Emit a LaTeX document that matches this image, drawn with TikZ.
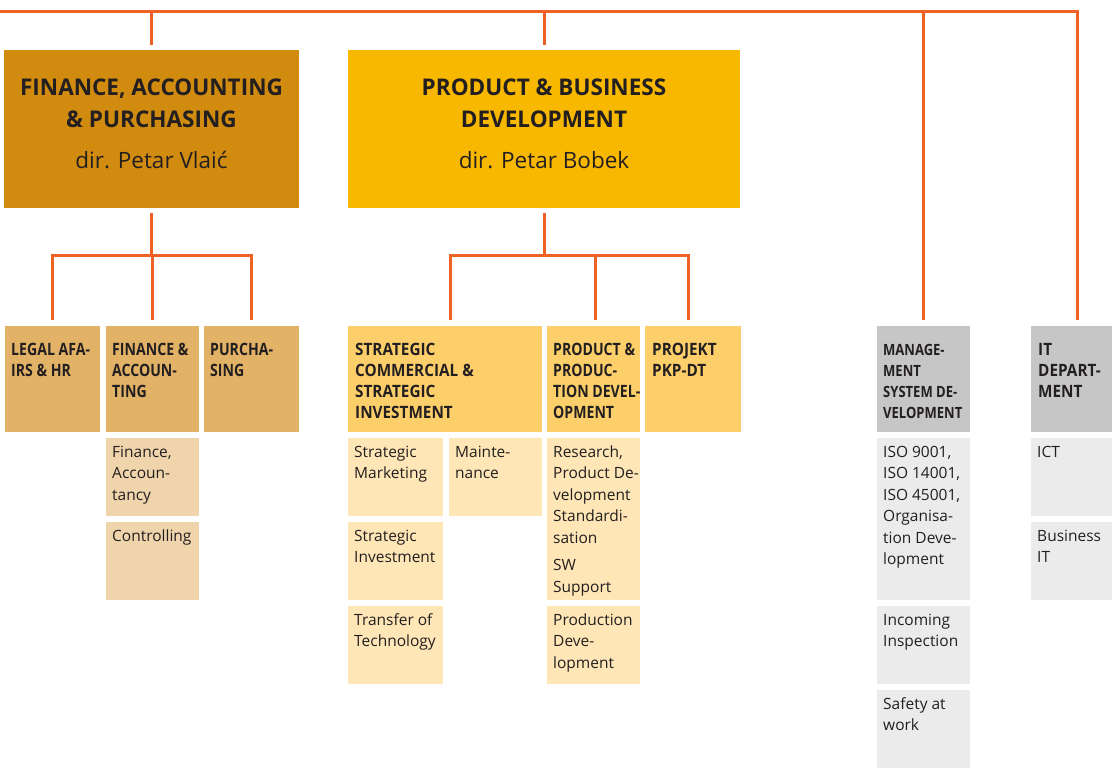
\documentclass[tikz,border=0pt]{standalone}
\usepackage{fontspec}
\setmainfont{Open Sans}
\newfontfamily\hdfont{Open Sans}[FakeStretch=0.9]
\newfontfamily\hdnfont{Open Sans}[FakeStretch=0.83]
\newfontfamily\msdfont{Open Sans}[FakeStretch=0.84]
\newfontfamily\bigfontfam{Open Sans}[FakeStretch=0.98]
\definecolor{conn}{HTML}{EE6325}
\definecolor{txt}{HTML}{231F20}
\definecolor{finbig}{HTML}{D18B0F}
\definecolor{pbdbig}{HTML}{F9B800}
\definecolor{finhd}{HTML}{E2B266}
\definecolor{finsub}{HTML}{F0D5AC}
\definecolor{pbdhd}{HTML}{FDCF6A}
\definecolor{pbdsub}{HTML}{FFE6B6}
\definecolor{grayhd}{HTML}{C6C6C6}
\definecolor{graysub}{HTML}{EBEBEB}
\newcommand\hdtext{\hdfont\bfseries\fontsize{17}{21}\selectfont\raggedright}
\newcommand\hdntext{\hdnfont\bfseries\fontsize{17}{21}\selectfont\raggedright}
\newcommand\sbtext{\fontsize{15.5}{21.5}\selectfont\raggedright}
\newcommand\bx[6]{\node[box,fill=#6,minimum width=#4,minimum height=#5,anchor=north west] (#1) at (#2,#3) {};}
\newcommand\hd[2]{\node[anchor=base west,inner sep=0,text=txt] (#1-t) at ([shift={(7pt,-29pt)}]#1.north west) {\parbox[t]{200pt}{\hdtext #2}};}
\newcommand\hdn[2]{\node[anchor=base west,inner sep=0,text=txt] (#1-t) at ([shift={(6pt,-29pt)}]#1.north west) {\parbox[t]{200pt}{\hdntext #2}};}
\newcommand\st[2]{\node[anchor=base west,inner sep=0,text=txt] (#1-t) at ([shift={(6pt,-19pt)}]#1.north west) {\parbox[t]{200pt}{\sbtext #2}};}
\tikzset{
  box/.style={draw=none,inner sep=0,outer sep=0,rectangle},
  link/.style={draw=conn,line width=3pt},
}
\begin{document}
\begin{tikzpicture}[x=1pt,y=-1pt]
\useasboundingbox (0,0) rectangle (1112,769);
% big boxes
\bx{fin}{4}{50}{295}{158}{finbig}
\bx{pbd}{348}{50}{392}{158}{pbdbig}
\node[anchor=base,inner sep=0,text=txt] (fin-t) at ([yshift=-45pt]fin.north)
  {\parbox[t]{300pt}{\fontsize{22.5}{32}\selectfont\centering{\bigfontfam\bfseries\fontsize{23}{32}\selectfont FINANCE, ACCOUNTING\\\& PURCHASING}\\[9pt]dir. Petar Vlaić}};
\node[anchor=base,inner sep=0,text=txt] (pbd-t) at ([yshift=-45pt]pbd.north)
  {\parbox[t]{380pt}{\fontsize{22.5}{32}\selectfont\centering{\bigfontfam\bfseries\fontsize{23}{32}\selectfont PRODUCT \& BUSINESS\\DEVELOPMENT}\\[9pt]dir. Petar Bobek}};
% finance column
\bx{legal}{5}{326}{95}{106}{finhd}
\bx{fa}{106}{326}{93}{106}{finhd}
\bx{pur}{204}{326}{95}{106}{finhd}
\bx{faa}{106}{438}{93}{78}{finsub}
\bx{ctrl}{106}{522}{93}{78}{finsub}
\hdn{legal}{LEGAL AFA-\\IRS \& HR}
\hdn{fa}{FINANCE \&\\ACCOUN-\\TING}
\hdn{pur}{PURCHA-\\SING}
\st{faa}{Finance,\\Accoun-\\tancy}
\st{ctrl}{Controlling}
% product column
\bx{sci}{348}{326}{194}{106}{pbdhd}
\bx{ppd}{547}{326}{93}{106}{pbdhd}
\bx{pkp}{645}{326}{96}{106}{pbdhd}
\bx{smkt}{348}{438}{95}{78}{pbdsub}
\bx{maint}{449}{438}{93}{78}{pbdsub}
\bx{sinv}{348}{522}{95}{78}{pbdsub}
\bx{tot}{348}{606}{95}{78}{pbdsub}
\bx{res}{547}{438}{93}{162}{pbdsub}
\bx{prod}{547}{606}{93}{78}{pbdsub}
\hd{sci}{STRATEGIC\\COMMERCIAL \&\\STRATEGIC\\INVESTMENT}
\hdn{ppd}{PRODUCT \&\\PRODUC-\\TION DEVEL-\\OPMENT}
\hd{pkp}{PROJEKT\\PKP-DT}
\st{smkt}{Strategic\\Marketing}
\st{maint}{Mainte-\\nance}
\st{sinv}{Strategic\\Investment}
\st{tot}{Transfer of\\Technology}
\st{res}{Research,\\Product De-\\velopment\\Standardi-\\sation\\[6pt]SW\\Support}
\st{prod}{Production\\Deve-\\lopment}
% management column
\bx{msd}{877}{326}{93}{106}{grayhd}
\bx{iso}{877}{438}{93}{162}{graysub}
\bx{inc}{877}{606}{93}{78}{graysub}
\bx{saf}{877}{690}{93}{78}{graysub}
\node[anchor=base west,inner sep=0,text=txt] (msd-t) at ([shift={(6pt,-29pt)}]msd.north west)
  {\parbox[t]{200pt}{\msdfont\bfseries\fontsize{15.5}{21}\selectfont\raggedright MANAGE-\\MENT\\SYSTEM DE-\\VELOPMENT}};
\st{iso}{ISO 9001,\\ISO 14001,\\ISO 45001,\\Organisa-\\tion Deve-\\lopment}
\st{inc}{Incoming\\Inspection}
\st{saf}{Safety at\\work}
% IT column
\bx{it}{1031}{326}{93}{106}{grayhd}
\bx{ict}{1031}{438}{93}{78}{graysub}
\bx{bit}{1031}{522}{93}{78}{graysub}
\hd{it}{IT\\DEPART-\\MENT}
\st{ict}{ICT}
\st{bit}{Business\\IT}
% connectors
\coordinate (topl) at (-5,11);
\coordinate (fbus) at (152,255);
\coordinate (pbus) at (544,255);
\draw[link] (topl) -- (it.north |- topl) -- ([yshift=6pt]it.north);
\draw[link] ([yshift=5pt]fin.north) -- (fin.north |- topl);
\draw[link] ([yshift=5pt]pbd.north) -- (pbd.north |- topl);
\draw[link] ([yshift=6pt]msd.north) -- (msd.north |- topl);
\draw[link] ([yshift=-5pt]fin.south) -- (fin.south |- fbus);
\draw[link] ([yshift=6pt]legal.north) -- (legal.north |- fbus) -- (pur.north |- fbus) -- ([yshift=6pt]pur.north);
\draw[link] ([yshift=6pt]fa.north) -- (fa.north |- fbus);
\draw[link] ([yshift=-5pt]pbd.south) -- (pbd.south |- pbus);
\coordinate (sciT) at ([shift={(5pt,6pt)}]sci.north);
\coordinate (ppdT) at ([shift={(1.5pt,6pt)}]ppd.north);
\coordinate (pkpT) at ([shift={(-5pt,6pt)}]pkp.north);
\draw[link] (sciT) -- (sciT |- pbus) -- (pkpT |- pbus) -- (pkpT);
\draw[link] (ppdT) -- (ppdT |- pbus);
\end{tikzpicture}
\end{document}
